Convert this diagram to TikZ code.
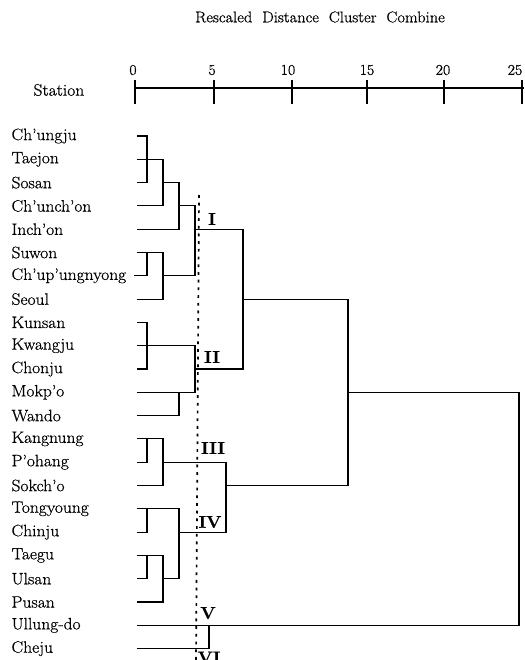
\documentclass[tikz,border=0pt]{standalone}
\usepackage{fontspec}
\setmainfont{Latin Modern Roman}[FakeBold=0.7,FakeStretch=1.06]
\newcommand{\rw}[1]{{136+23.3*#1}}
\begin{document}
\begin{tikzpicture}[x=1pt,y=-1pt,line width=1.1pt,
  lbl/.style={anchor=west,inner sep=0pt,font=\fontsize{16.5}{18}\selectfont},
  rom/.style={inner sep=0pt,font=\fontsize{17}{17}\selectfont\bfseries},
  num/.style={inner sep=0pt,font=\fontsize{15}{16}\selectfont},
  ttl/.style={inner sep=0pt,font=\fontsize{15.5}{16}\selectfont},
  dotline/.style={line width=1.7pt,dash pattern=on 2.8pt off 4.9pt}]
\useasboundingbox (0,0) rectangle (524,660);
\clip (0,0) rectangle (524,660);
% title and axis
\node[ttl] (title) at (320,17) {Rescaled\ \ Distance\ \ Cluster\ \ Combine};
\node[lbl] (station) at (33,90) {Station};
\foreach \v/\xt/\xl in {0/135/133, 5/214/212, 10/292/288, 15/367/367, 20/444/443, 25/522/515}{
  \node[num] (n\v) at (\xl,70) {\v};
  \draw (\xt,80) -- (\xt,104);
}
\draw (135,88) -- (524,88);
% station names
\foreach \t [count=\i from 0] in {Ch'ungju,Taejon,Sosan,Ch'unch'on,Inch'on,Suwon,Ch'up'ungnyong,Seoul,Kunsan,Kwangju,Chonju,Mokp'o,Wando,Kangnung,P'ohang,Sokch'o,Tongyoung,Chinju,Taegu,Ulsan,Pusan,Ullung-do,Cheju}{
  \node[lbl] (s\i) at (11,\rw{\i}) {\t};
  \coordinate (p\i) at (137,\rw{\i});
}
% cluster I
\draw (p0) -| (147,\rw{2}) -- (p2);
\draw (p1) -- (163,\rw{1}) |- (p3);
\draw (163,\rw{2}) -| (179,\rw{4}) -- (p4);
\draw (179,\rw{3}) -| (195,\rw{6});
\draw (p5) -- (163,\rw{5}) |- (p7);
\draw (147,\rw{5}) |- (134,\rw{6});
\draw (163,\rw{6}) -- (195,\rw{6});
\draw (195,\rw{4}) -| (243,\rw{10}) -- (195,\rw{10});
% cluster II
\draw (p8) -| (147,\rw{10}) -- (p10);
\draw (p9) -- (195,\rw{9}) |- (p11);
\draw (179,\rw{11}) |- (p12);
% join I + II
\draw (243,\rw{7}) -| (348,\rw{15}) -- (226,\rw{15});
% cluster III
\draw (p13) -- (163,\rw{13}) |- (p15);
\draw (147,\rw{13}) |- (p14);
\draw (163,\rw{14}) -| (226,\rw{17}) -- (179,\rw{17});
% cluster IV
\draw (p16) -- (179,\rw{16}) |- (163,\rw{19});
\draw (147,\rw{16}) |- (p17);
\draw (p18) -- (163,\rw{18}) |- (p20);
\draw (147,\rw{18}) |- (p19);
% clusters V, VI and final join
\draw (348,\rw{11}) -| (519,\rw{21}) -- (p21);
\draw (209,\rw{21}) |- (p22);
% cut line and cluster labels
\coordinate (cutA) at (199,195);
\coordinate (cutB) at (196,664);
\draw[dotline] (cutA) -- (cutB);
\node[rom] (cI) at (212,219) {I};
\node[rom] (cII) at (212,357) {II};
\node[rom] (cIII) at (213,448) {III};
\node[rom] (cIV) at (210,522) {IV};
\node[rom] (cV) at (208,613) {V};
\node[rom,anchor=north] (cVI) at (209,651) {VI};
\end{tikzpicture}
\end{document}
